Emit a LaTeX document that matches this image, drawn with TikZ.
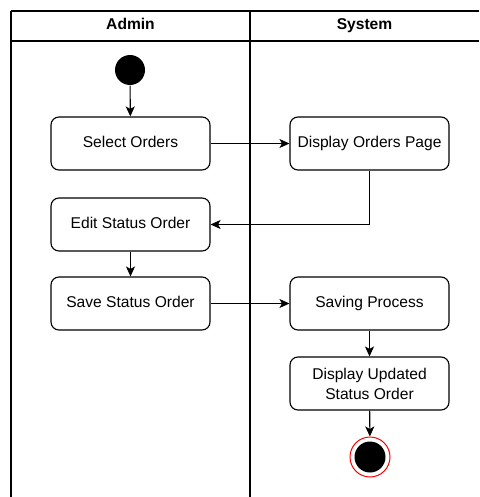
\documentclass[tikz,border=0pt]{standalone}
\usepackage{fontspec}
\setmainfont{Liberation Sans}
\usetikzlibrary{arrows.meta,positioning}

\begin{document}
\begin{tikzpicture}[
    x=1pt, y=-1pt,
    font=\fontsize{15.6}{20}\selectfont,
    line width=1.1pt,
    act/.style={draw, rounded corners=8pt, align=center, minimum height=53pt, minimum width=159pt, inner sep=2pt},
    oneline/.style={act, text height=11.5pt, text depth=3.5pt},
    lane/.style={font=\fontsize{15.6}{20}\selectfont\bfseries, text height=11pt, text depth=3pt},
    initnode/.style={circle, fill=black, minimum size=30pt, inner sep=0pt},
    arrow/.style={-{Stealth[length=10pt, width=9pt, inset=2.5pt]}, line width=1.1pt}
]
\useasboundingbox (0,0) rectangle (479,497);
% swimlanes
\coordinate (tl) at (11,11);
\coordinate (tr) at (479,11);
\coordinate (hl) at (11,41);
\coordinate (hr) at (479,41);
\coordinate (bl) at (11,497);
\coordinate (mt) at (250,11);
\coordinate (mb) at (250,497);
\draw (tl) -- (tr);
\draw (hl) -- (hr);
\draw (tl) -- (bl);
\draw (mt) -- (mb);
\node[lane] (admin) at (130.5,26) {Admin};
\node[lane] (system) at (364.5,26) {System};
% activities
\node[initnode] (start) at (130,70) {};
\node[oneline] (select) at (130.5,143.5) {Select Orders};
\node[oneline] (display) at (369.5,143.5) {Display Orders Page};
\node[oneline] (edit) at (130.5,224.5) {Edit Status Order};
\node[oneline] (save) at (130.5,303.5) {Save Status Order};
\node[oneline] (saving) at (369.5,303.5) {Saving Process};
\node[act] (updated) at (369.5,383.5) {Display Updated\\Status Order};
\node[circle, draw=red, line width=1pt, fill=white, minimum size=40pt, inner sep=0pt] (final) at (370,457) {};
\node[circle, fill=black, minimum size=31pt, inner sep=0pt] (finaldot) at (final) {};
% flow
\draw[arrow] (start) -- (select);
\draw[arrow] (select) -- (display);
\draw[arrow] (display.south) |- (edit.east);
\draw[arrow] (edit) -- (save);
\draw[arrow] (save) -- (saving);
\draw[arrow] (saving) -- (updated);
\draw[arrow] (updated) -- (final);
\end{tikzpicture}
\end{document}
